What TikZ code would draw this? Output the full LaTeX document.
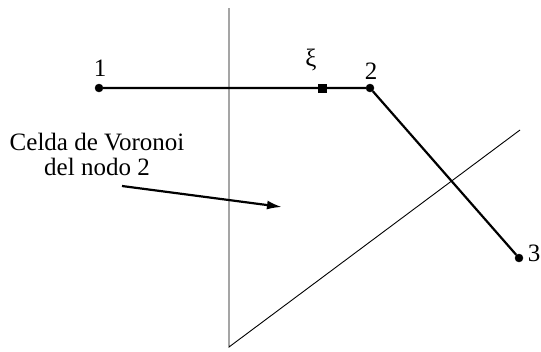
\documentclass[tikz,border=0pt]{standalone}
\usepackage{fontspec}
\setmainfont{Liberation Serif}
\usetikzlibrary{arrows.meta,positioning}
\tikzstyle{punto}=[draw,fill=black,circle,minimum size=8pt,inner sep=0pt]
\tikzstyle{cuadro}=[draw,fill=black,rectangle,minimum size=8pt,inner sep=0pt]
\tikzstyle{etiq}=[inner sep=0pt,font=\fontsize{25}{25}\selectfont]

\begin{document}
\begin{tikzpicture}[x=1pt,y=-1pt,
linea/.style={line width=2.2pt},
fina/.style={line width=0.9pt}]
\useasboundingbox (0,0) rectangle (541,351);
% celda de Voronoi
\coordinate (arriba) at (229,8);
\coordinate (vertice) at (229,347);
\coordinate (diag) at (520,130);
\draw [fina] (arriba) -- (vertice) -- (diag);
% nodos
\node [punto] (n1) at (99,88) {};
\node [punto] (n2) at (370,88) {};
\node [punto] (n3) at (519,258) {};
\node [cuadro] (xi) at (322,88) {};
\draw [linea] (n1) -- (xi) -- (n2) -- (n3);
\node [etiq] (l1) at (100,68) {1};
\node [etiq] (l2) at (371,71) {2};
\node [etiq] (l3) at (534,253) {3};
\node [etiq] (lxi) at (311,60) {ξ};
% texto
\node [etiq,align=center] (texto) at (97,154) {Celda de Voronoi\\del nodo 2};
\coordinate (punta) at (282,207);
\draw [linea,-{Latex[length=15pt,width=9pt]}] (122,186) -- (punta);
\end{tikzpicture}
\end{document}
